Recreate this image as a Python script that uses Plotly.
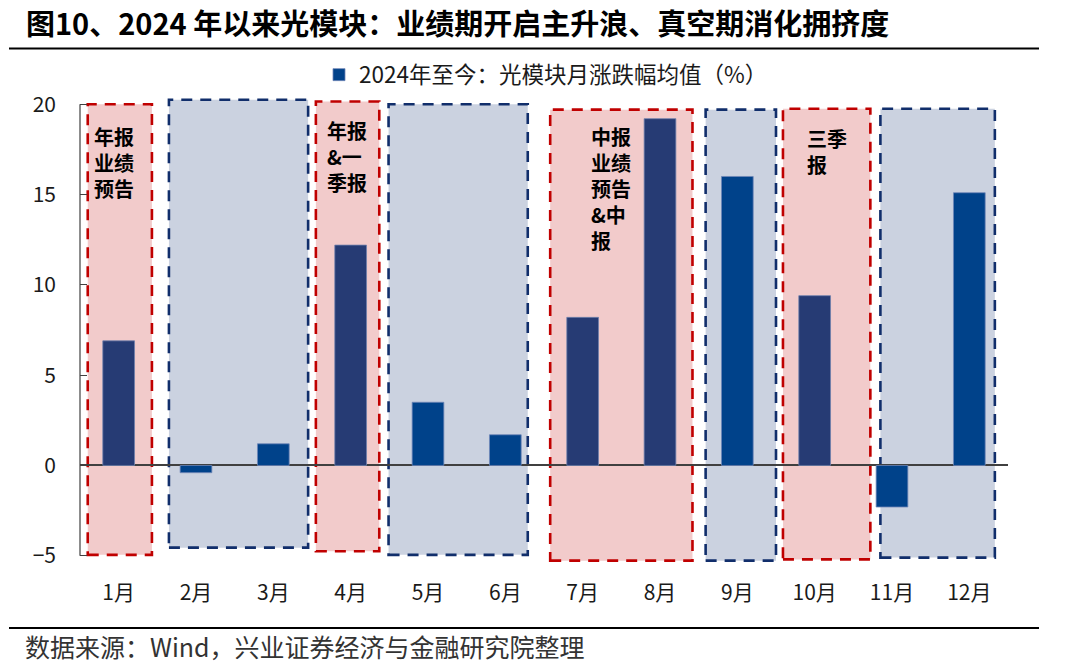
import plotly.graph_objects as go

months = ["1月", "2月", "3月", "4月", "5月", "6月", "7月", "8月", "9月", "10月", "11月", "12月"]
values = [6.9, -0.4, 1.2, 12.2, 3.5, 1.7, 8.2, 19.2, 16.0, 9.4, -2.3, 15.1]
# months that fall in an earnings-report window (darker bars, red boxes)
report_months = ["1月", "4月", "7月", "8月", "10月"]
y_ticks = [-5, 0, 5, 10, 15, 20]

legend_name = "2024年至今：光模块月涨跌幅均值（%）"
title_text = "图10、2024 年以来光模块：业绩期开启主升浪、真空期消化拥挤度"
source_text = "数据来源：Wind，兴业证券经济与金融研究院整理"

# shaded windows: (kind, x0, x1, y0, y1) in category units / %
windows = [
    ("red", -0.40, 0.43, -4.95, 20.0),
    ("blue", 0.65, 2.45, -4.55, 20.25),
    ("red", 2.55, 3.37, -4.75, 20.15),
    ("blue", 3.49, 5.29, -4.95, 20.0),
    ("red", 5.58, 7.42, -5.27, 19.7),
    ("blue", 7.59, 8.50, -5.27, 19.7),
    ("red", 8.59, 9.72, -5.2, 19.75),
    ("blue", 9.85, 11.33, -5.1, 19.75),
]
# labels inside the red windows: (x left, y centre of block, text)
window_labels = [
    (-0.35, 16.8, "年报<br>业绩<br>预告"),
    (2.67, 17.08, "年报<br>&amp;一<br>季报"),
    (6.08, 15.36, "中报<br>业绩<br>预告<br>&amp;中<br>报"),
    (8.87, 17.4, "三季<br>报"),
]

NAVY = "#263B74"
BLUE = "#00428A"
FONT = "Noto Sans CJK SC"

W, H = 1080, 664
ML, MR, MT, MB = 80, 72, 97, 101
pw, ph = W - ML - MR, H - MT - MB


def px_x(px):
    return (px - ML) / pw


def px_y(py):
    return (H - MB - py) / ph


xs = list(range(len(months)))
x_hi = [i for i, m in enumerate(months) if m in report_months]
x_lo = [i for i, m in enumerate(months) if m not in report_months]

fig = go.Figure()
fig.add_trace(go.Bar(
    x=x_lo, y=[values[i] for i in x_lo], width=0.41, name=legend_name,
    marker=dict(color=BLUE, line=dict(color="#6F86B8", width=0.8)),
))
fig.add_trace(go.Bar(
    x=x_hi, y=[values[i] for i in x_hi], width=0.41, showlegend=False,
    marker=dict(color=NAVY, line=dict(color="#6F80AC", width=0.8)),
))

for kind, x0, x1, y0, y1 in windows:
    if kind == "red":
        fill, edge = "#F2CBCB", "#C00000"
    else:
        fill, edge = "#CBD2E0", "#112E6B"
    fig.add_shape(type="rect", xref="x", yref="y", x0=x0, x1=x1, y0=y0, y1=y1,
                  fillcolor=fill, line=dict(color=edge, width=2.6, dash="11px,8px"),
                  layer="below")

for x0, yc, t in window_labels:
    fig.add_annotation(x=x0, y=yc, xref="x", yref="y", text=t, align="left",
                       showarrow=False, xanchor="left", yanchor="middle",
                       font=dict(family=FONT, size=20, color="black", weight=700))

# y axis line
fig.add_shape(type="line", xref="paper", yref="y", x0=0, x1=0, y0=-5, y1=20,
              line=dict(color="#404040", width=1.2), layer="above")
# title rule and footer rule
for py in (48.5, 628):
    fig.add_shape(type="line", xref="paper", yref="paper",
                  x0=px_x(9), x1=px_x(1039), y0=px_y(py), y1=px_y(py),
                  line=dict(color="black", width=2))

fig.add_annotation(x=px_x(23), y=px_y(646), xref="paper", yref="paper",
                   text=source_text, showarrow=False, xanchor="left", yanchor="middle",
                   font=dict(family=FONT, size=25, color="#333333"))

fig.update_layout(
    width=W, height=H,
    margin=dict(l=ML, r=MR, t=MT, b=MB),
    plot_bgcolor="white", paper_bgcolor="white",
    barmode="overlay",
    font=dict(family=FONT, size=20, color="#1a1a1a"),
    title=dict(text="<b>" + title_text + "</b>", x=26 / W, xanchor="left", xref="container",
               y=1 - 25 / H, yanchor="middle", yref="container",
               font=dict(family=FONT, size=29, color="black")),
    legend=dict(orientation="h", x=546 / W, xanchor="center", xref="container",
                y=1 - 75 / H, yanchor="middle", yref="container",
                font=dict(family=FONT, size=22.5, color="#1a1a1a"), bgcolor="rgba(0,0,0,0)"),
    showlegend=True,
)
fig.update_xaxes(range=[-0.5, 11.5], tickvals=xs, ticktext=months, showgrid=False,
                 showline=False, zeroline=False, ticks="", ticklabelstandoff=15,
                 tickfont=dict(size=21), automargin=False)
fig.update_yaxes(range=[-5.4, 20.4], tickvals=y_ticks, showgrid=False, showline=False,
                 zeroline=True, zerolinecolor="#404040", zerolinewidth=1.5,
                 ticks="inside", ticklen=7, tickcolor="#404040", ticklabelstandoff=23,
                 tickfont=dict(size=21), automargin=False)

# page body has a default 8px margin; drop it so the figure fills the window
fig.write_html("out.html", config={"displayModeBar": False},
               post_script="document.body.style.margin='0px';")
